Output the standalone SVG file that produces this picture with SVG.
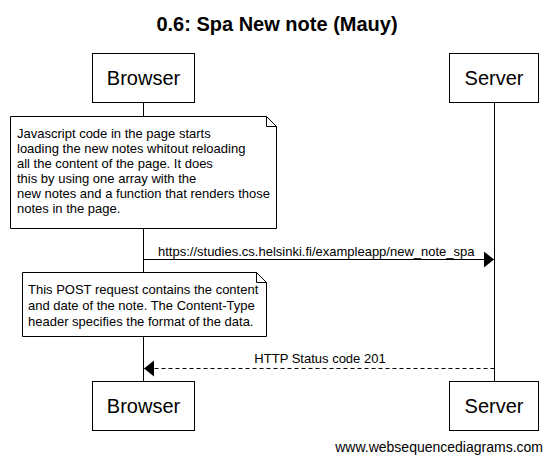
<svg xmlns="http://www.w3.org/2000/svg" width="553" height="464" viewBox="0 0 553 464">
<style>
text{font-family:"Liberation Sans",Arial,sans-serif;fill:#000}
.title{font-size:20px;font-weight:bold}
.part{font-size:20px}
.note{font-size:13px}
.msg{font-size:13px}
.box{fill:#fff;stroke:#000;stroke-width:1}
.life{stroke:#000;stroke-width:1}
</style>
<defs>
<marker id="ah" markerWidth="10" markerHeight="16" refX="10" refY="8" orient="auto" markerUnits="userSpaceOnUse">
<path d="M0,0 L10,8 L0,16 Z" fill="#000"/>
</marker>
</defs>
<text class="title" x="277" y="31" text-anchor="middle">0.6: Spa New note (Mauy)</text>
<g id="lifelines">
<line class="life" x1="143.5" y1="102" x2="143.5" y2="382"/>
<line class="life" x1="494.5" y1="102" x2="494.5" y2="382"/>
</g>
<g id="browser-top">
<rect class="box" x="92.5" y="53.5" width="102" height="49"/>
<text class="part" x="143.5" y="85" text-anchor="middle">Browser</text>
</g>
<g id="server-top">
<rect class="box" x="449.5" y="53.5" width="89" height="49"/>
<text class="part" x="494" y="85" text-anchor="middle">Server</text>
</g>
<g id="note1">
<path class="box" d="M10.5,116.5 H266.5 L276.5,126.5 V228.5 H10.5 Z"/>
<path d="M266.5,116.5 V126.5 H276.5" fill="none" stroke="#000"/>
<text class="note" x="17" y="138">Javascript code in the page starts</text>
<text class="note" x="17" y="153">loading the new notes whitout reloading</text>
<text class="note" x="17" y="168">all the content of the page. It does</text>
<text class="note" x="17" y="183">this by using one array with the</text>
<text class="note" x="17" y="198">new notes and a function that renders those</text>
<text class="note" x="17" y="213">notes in the page.</text>
</g>
<g id="connectors">
<line x1="143.5" y1="259.5" x2="494" y2="259.5" stroke="#000" marker-end="url(#ah)"/>
<text class="msg" x="158" y="256">https://studies.cs.helsinki.fi/exampleapp/new_note_spa</text>
<line x1="494.5" y1="368.5" x2="144" y2="368.5" stroke="#000" stroke-dasharray="4,3" marker-end="url(#ah)"/>
<text class="msg" x="320" y="363" text-anchor="middle">HTTP Status code 201</text>
</g>
<g id="note2">
<path class="box" d="M22.5,272.5 H256.5 L266.5,282.5 V336.5 H22.5 Z"/>
<path d="M256.5,272.5 V282.5 H266.5" fill="none" stroke="#000"/>
<text class="note" x="28" y="294">This POST request contains the content</text>
<text class="note" x="28" y="310">and date of the note. The Content-Type</text>
<text class="note" x="28" y="326">header specifies the format of the data.</text>
</g>
<g id="browser-bottom">
<rect class="box" x="92.5" y="381.5" width="102" height="49"/>
<text class="part" x="143.5" y="413" text-anchor="middle">Browser</text>
</g>
<g id="server-bottom">
<rect class="box" x="449.5" y="381.5" width="89" height="49"/>
<text class="part" x="494" y="413" text-anchor="middle">Server</text>
</g>
<text x="543" y="452" text-anchor="end" font-size="14">www.websequencediagrams.com</text>
</svg>
